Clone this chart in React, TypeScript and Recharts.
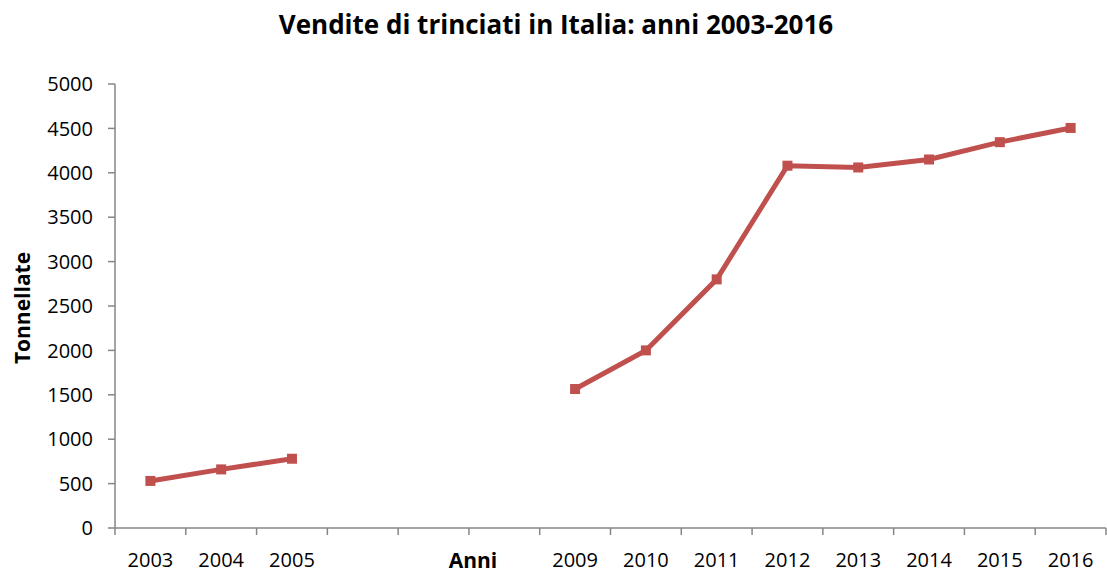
import { LineChart, Line, XAxis, YAxis } from 'recharts';

const YEARS = ['2003', '2004', '2005', '2006', '2007', '2008', '2009', '2010', '2011', '2012', '2013', '2014', '2015', '2016'];
// Excel chart leaves the 2006-2008 labels empty
const YEAR_LABELS = ['2003', '2004', '2005', '', '', '', '2009', '2010', '2011', '2012', '2013', '2014', '2015', '2016'];
const TONNES = [530, 660, 780, null, null, null, 1565, 2000, 2800, 4080, 4060, 4150, 4345, 4505];
const Y_TICKS = [0, 500, 1000, 1500, 2000, 2500, 3000, 3500, 4000, 4500, 5000];

const RED = '#C0504D';
const AXIS = '#868686';
const FONT = '"Open Sans", sans-serif';

const data = YEARS.map((y, i) => ({ pos: i + 0.5, year: y, value: TONNES[i] }));
const boundaries = YEARS.map((_, i) => i).concat(YEARS.length);
const centers = YEARS.map((_, i) => i + 0.5);

function SquareDot(props: any) {
  const { cx, cy, value } = props;
  if (value == null || cx == null || cy == null) return null;
  return <rect x={cx - 5} y={cy - 5} width={10} height={10} fill={RED} />;
}

export default function App() {
  return (
    <div style={{ position: 'absolute', left: 0, top: 0, width: 1107, height: 578, fontFamily: FONT, background: '#fff', overflow: 'hidden' }}>
      <div style={{
        position: 'absolute', left: 556, top: 24, transform: 'translate(-50%, -50%)', whiteSpace: 'nowrap',
        fontSize: 26, fontWeight: 700, color: '#000',
      }}>
        Vendite di trinciati in Italia: anni 2003-2016
      </div>
      <div style={{
        position: 'absolute', left: 22, top: 308, transform: 'translate(-50%, -50%) rotate(-90deg)',
        fontSize: 21, fontWeight: 700, whiteSpace: 'nowrap',
      }}>
        Tonnellate
      </div>
      <div style={{
        position: 'absolute', left: 473, top: 550, transform: 'translateX(-50%)',
        fontSize: 21, lineHeight: '21px', fontWeight: 700,
      }}>
        Anni
      </div>

      <LineChart width={1107} height={578} data={data} margin={{ top: 84, right: 1, bottom: 0, left: 0 }}>
        <XAxis
          xAxisId="a_ticks"
          type="number"
          dataKey="pos"
          domain={[0, YEARS.length]}
          ticks={boundaries}
          tickFormatter={() => ''}
          tickSize={7}
          height={10}
          stroke={AXIS}
          strokeWidth={1.5}
        />
        <XAxis
          xAxisId="b_labels"
          type="number"
          dataKey="pos"
          domain={[0, YEARS.length]}
          ticks={centers}
          tickFormatter={(v: number) => YEAR_LABELS[Math.floor(v)]}
          axisLine={false}
          tickLine={false}
          tickSize={0}
          tickMargin={15}
          height={40}
          tick={{ fill: '#000', fontSize: 20, fontFamily: FONT }}
          interval={0}
        />
        <YAxis
          type="number"
          domain={[0, 5000]}
          ticks={Y_TICKS}
          width={115}
          tickSize={7}
          tickMargin={15}
          stroke={AXIS}
          strokeWidth={1.5}
          tick={{ fill: '#000', fontSize: 20, fontFamily: FONT }}
          interval={0}
        />
        <Line
          xAxisId="a_ticks"
          dataKey="value"
          stroke={RED}
          strokeWidth={5}
          dot={<SquareDot />}
          activeDot={false}
          isAnimationActive={false}
          connectNulls={false}
        />
      </LineChart>
    </div>
  );
}
